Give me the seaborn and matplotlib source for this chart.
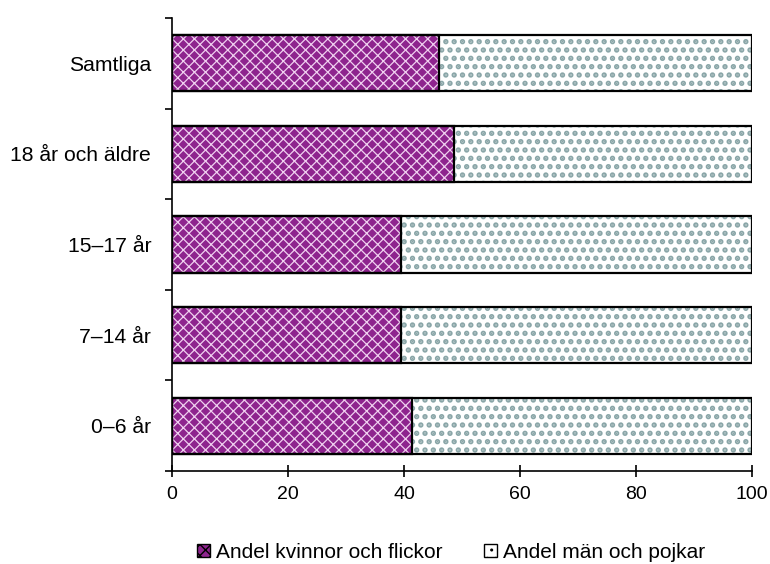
import matplotlib
matplotlib.use("Agg")
import matplotlib.pyplot as plt
import seaborn as sns
import pandas as pd
import numpy as np
from matplotlib.patches import Patch

categories = ["Samtliga", "18 år och äldre", "15–17 år", "7–14 år", "0–6 år"]
women = [46.0, 48.6, 39.5, 39.4, 41.3]
men = [100 - w for w in women]
series_names = ["Andel kvinnor och flickor", "Andel män och pojkar"]

sns.set_style("white")
plt.rcParams['font.family'] = ['Liberation Sans', 'DejaVu Sans']
plt.rcParams['hatch.linewidth'] = 1.0

df = pd.DataFrame({"cat": categories, "women": women, "men": men})
df["total"] = df["women"] + df["men"]

fig = plt.figure(figsize=(7.7, 5.64), dpi=100)
ax = fig.add_axes([172/770, 1 - 471/564, 580/770, 453/564])

purple = "#8E248E"
teal = "#8AA6A8"

def set_hlw(p, lw):
    if hasattr(p, "set_hatch_linewidth"):
        p.set_hatch_linewidth(lw)

# men layer (full length)
sns.barplot(data=df, y="cat", x="total", order=categories, orient="h",
            color="white", width=0.62, ax=ax, saturation=1, zorder=2)
n_men = len(ax.patches)
for p in ax.patches[:n_men]:
    p.set_facecolor("white")
    p.set_edgecolor(teal)
    p.set_hatch("..")
    p.set_linewidth(0)
    set_hlw(p, 2.6)
# women layer
sns.barplot(data=df, y="cat", x="women", order=categories, orient="h",
            color=purple, width=0.62, ax=ax, saturation=1, zorder=3)
for p in ax.patches[n_men:]:
    p.set_facecolor(purple)
    p.set_edgecolor("#F0D0F0")
    p.set_hatch("xxx")
    p.set_linewidth(0)
    set_hlw(p, 0.9)

# outlines
for p in list(ax.patches):
    x0, y0 = p.get_x(), p.get_y()
    w, h = p.get_width(), p.get_height()
    ax.add_patch(plt.Rectangle((x0, y0), w, h, fill=False, edgecolor="black",
                               linewidth=1.6, zorder=4))

ax.set_xlim(0, 100)
ax.set_ylim(4.5, -0.5)
ax.set_xticks([0, 20, 40, 60, 80, 100])
ax.set_xlabel("")
ax.set_ylabel("")
for s in ["top", "right"]:
    ax.spines[s].set_visible(False)
for s in ["left", "bottom"]:
    ax.spines[s].set_color("black")
    ax.spines[s].set_linewidth(1.2)
ax.tick_params(axis="x", bottom=True, direction="inout", length=9, width=1.2,
               labelsize=14, pad=6, colors="black")
ax.tick_params(axis="y", which="major", left=False, length=0, labelsize=15.2, pad=15,
               labelcolor="black")
ax.set_yticks(np.arange(-0.5, 5.0, 1.0), minor=True)
ax.tick_params(axis="y", which="minor", left=True, direction="out", length=5, width=1.2,
               color="black")

handles = [Patch(facecolor=purple, edgecolor="black", hatch="xxx", linewidth=1),
           Patch(facecolor="white", edgecolor="black", hatch="..", linewidth=1)]
leg = fig.legend(handles, series_names, loc="center", bbox_to_anchor=(0.586, 1 - 552/564),
                 ncol=2, frameon=False, fontsize=15, handlelength=0.6, handleheight=0.6,
                 handletextpad=0.3, columnspacing=2.0)
for t in leg.get_texts():
    t.set_color("black")

fig.savefig("out.png", dpi=100)
